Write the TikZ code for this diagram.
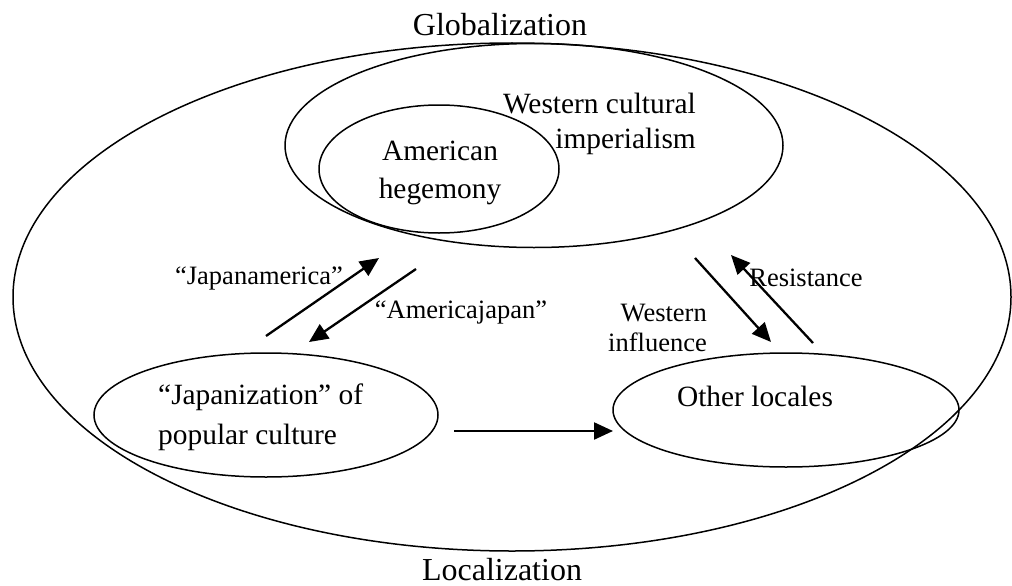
\documentclass[tikz,border=0pt]{standalone}
\usepackage{fontspec}
\setmainfont{Liberation Serif}
\usetikzlibrary{shapes.geometric,arrows.meta}
\tikzset{
  ell/.style={draw, ellipse, line width=1.5pt, inner sep=0pt},
  bigtxt/.style={inner sep=0pt, font=\fontsize{32}{37}\selectfont},
  midtxt/.style={inner sep=0pt, font=\fontsize{29.4}{38}\selectfont},
  smalltxt/.style={inner sep=0pt, font=\fontsize{26.5}{30}\selectfont},
  arr/.style={line width=2.3pt, -{Triangle[length=19pt,width=17pt]}}
}
\begin{document}
\begin{tikzpicture}[x=1pt,y=-1pt]
\useasboundingbox (0,0) rectangle (1012,586);
% ellipses
\node[ell, minimum width=998pt, minimum height=508pt] (glob) at (512,297) {};
\node[ell, minimum width=498pt, minimum height=204pt] (west) at (534,145.5) {};
\node[ell, minimum width=240pt, minimum height=128pt] (amer) at (439,169) {};
\node[ell, minimum width=344pt, minimum height=124pt] (japz) at (266,415) {};
\node[ell, minimum width=346pt, minimum height=114pt] (other) at (786,410) {};
% texts
\node[bigtxt] (tglob) at (500,25) {Globalization};
\node[bigtxt] (tloc) at (502,570) {Localization};
\node[midtxt, font=\fontsize{29.4}{35}\selectfont, align=right, anchor=east] (twest) at (696,124) {Western cultural\\imperialism};
\node[midtxt, align=center] (tamer) at (440,173) {American\\hegemony};
\node[midtxt, font=\fontsize{29.4}{40}\selectfont, align=left, anchor=west] (tjapz) at (158,417) {``Japanization'' of\\popular culture};
\node[midtxt] (tother) at (755,396) {Other locales};
\node[smalltxt] (tja) at (259,278) {``Japanamerica''};
\node[smalltxt] (taj) at (461,312) {``Americajapan''};
\node[smalltxt, align=right, anchor=east] (twi) at (707,328) {Western\\influence};
\node[smalltxt] (tres) at (806,278) {Resistance};
% arrow endpoints
\coordinate (ja1) at (266,336);
\coordinate (ja2) at (379,258);
\coordinate (aj1) at (416,269);
\coordinate (aj2) at (309,342);
\coordinate (wi1) at (695,258);
\coordinate (wi2) at (771,342);
\coordinate (rs1) at (813,343);
\coordinate (rs2) at (731,255);
\coordinate (h1) at (454,431);
\coordinate (h2) at (613,431);
\draw[arr] (ja1) -- (ja2);
\draw[arr] (aj1) -- (aj2);
\draw[arr] (wi1) -- (wi2);
\draw[arr] (rs1) -- (rs2);
\draw[arr] (h1) -- (h2);
\end{tikzpicture}
\end{document}
